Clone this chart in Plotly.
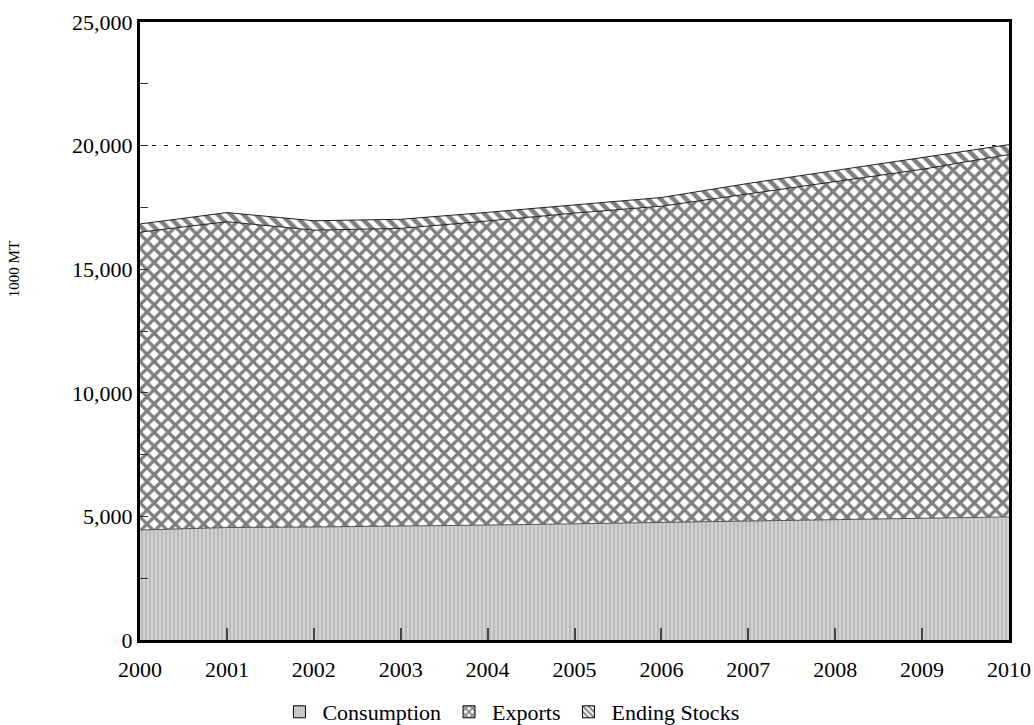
import plotly.graph_objects as go

years = [2000, 2001, 2002, 2003, 2004, 2005, 2006, 2007, 2008, 2009, 2010]
consumption = [4450, 4550, 4570, 4600, 4650, 4700, 4750, 4800, 4850, 4900, 4980]
exports = [12050, 12370, 12010, 12050, 12300, 12570, 12800, 13240, 13690, 14140, 14660]
ending_stocks = [330, 370, 380, 370, 350, 330, 350, 430, 460, 470, 400]
y_ticks = [0, 5000, 10000, 15000, 20000, 25000]

FONT = "Liberation Serif, Times New Roman, serif"

patterns = {
    "Consumption": dict(shape="|", size=4, solidity=0.4, fgcolor="#999999", bgcolor="#d2d2d2"),
    "Exports": dict(shape="x", size=10, solidity=0.55, fgcolor="black", bgcolor="white"),
    "Ending Stocks": dict(shape="\\", size=9, solidity=0.5, fgcolor="black", bgcolor="white"),
}
series = [("Consumption", consumption, "#555555"),
          ("Exports", exports, "#222222"),
          ("Ending Stocks", ending_stocks, "#222222")]

fig = go.Figure()
for name, vals, lc in series:
    fig.add_trace(go.Scatter(
        x=years, y=vals, name=name, stackgroup="one", mode="lines",
        line=dict(color=lc, width=1), fillpattern=patterns[name], showlegend=False,
    ))
# legend-only swatches (empty bars) to get square patterned keys
for name, _, _ in series:
    p = dict(patterns[name])
    bg = p.pop("bgcolor")
    fig.add_trace(go.Bar(
        x=[None], y=[None], name=name, showlegend=True,
        marker=dict(color=bg, pattern=dict(p, bgcolor=bg, size=max(3, p["size"] - 4)),
                    line=dict(color="black", width=1)),
    ))

fig.update_layout(
    width=1034, height=725,
    margin=dict(l=140, r=25, t=22, b=85, autoexpand=False),
    paper_bgcolor="white", plot_bgcolor="white",
    font=dict(family=FONT, color="black", size=22),
    showlegend=True,
    legend=dict(orientation="h", x=0.157, xanchor="left", y=-0.1165, yanchor="middle",
                font=dict(size=22, family=FONT), traceorder="normal", itemwidth=36),
    annotations=[dict(text="1000 MT", xref="paper", yref="paper", x=-0.145, y=0.6,
                      textangle=-90, showarrow=False, font=dict(size=15, family=FONT),
                      xanchor="center", yanchor="middle")],
)
fig.update_xaxes(
    range=[2000, 2010], tickvals=years, ticktext=[str(y) for y in years],
    ticks="inside", ticklen=12, tickcolor="#444444", tickwidth=2,
    showline=True, linecolor="black", linewidth=3, mirror=True, ticklabelstandoff=8,
    showgrid=False, zeroline=False, tickfont=dict(size=22), automargin=False,
)
fig.update_yaxes(
    range=[0, 25000], tickvals=y_ticks, tickformat=",",
    ticks="inside", ticklen=8, tickcolor="#333333",
    minor=dict(ticks="inside", dtick=2500, ticklen=8, tickcolor="#333333", showgrid=False),
    showline=True, linecolor="black", linewidth=3, mirror=True,
    showgrid=True, gridcolor="black", griddash="4px,8px", gridwidth=1,
    zeroline=False, tickfont=dict(size=22), automargin=False,
)

fig.write_html("out.html", config={"displayModeBar": False},
               post_script="document.body.style.margin='0';")
